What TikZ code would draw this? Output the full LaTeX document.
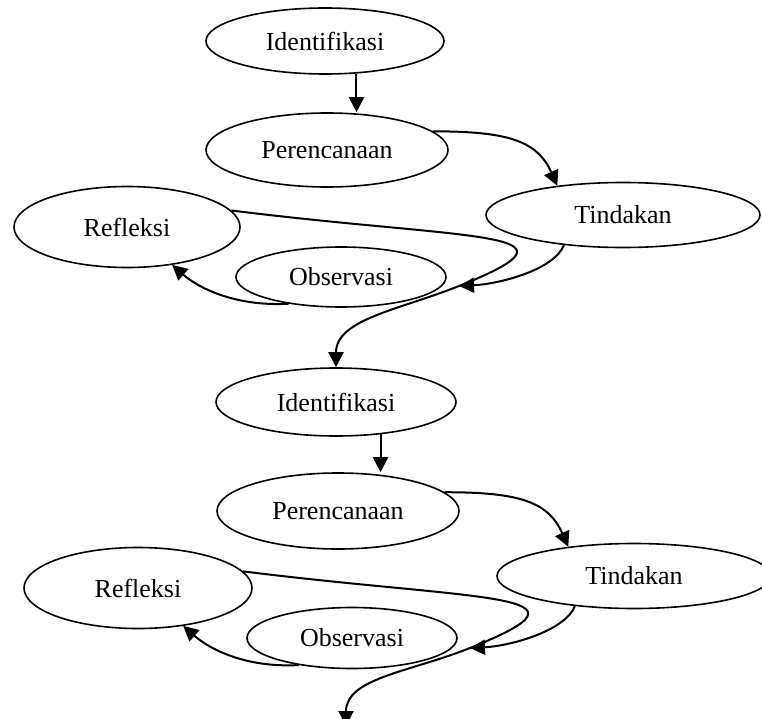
\documentclass[tikz,border=0pt]{standalone}
\usepackage{fontspec}
\setmainfont{Liberation Serif}
\usetikzlibrary{shapes.geometric,arrows.meta}

\tikzset{
  stage/.style={ellipse, draw, line width=1.6pt, inner sep=0pt,
    font=\fontsize{26}{30}\selectfont},
  flow/.style={line width=2pt, -{Triangle[length=15pt,width=15pt]}}
}

\begin{document}
\begin{tikzpicture}[x=1pt,y=-1pt]
  \useasboundingbox (0,0) rectangle (762,719);
  \clip (0,0) rectangle (762,719);

  % first cycle
  \node[stage, minimum width=238pt, minimum height=66pt] (id1) at (325,41) {Identifikasi};
  \node[stage, minimum width=242pt, minimum height=74pt] (pr1) at (327,150) {Perencanaan};
  \node[stage, minimum width=274pt, minimum height=65pt] (ti1) at (623,215) {Tindakan};
  \node[stage, minimum width=226pt, minimum height=81pt] (re1) at (127,227) {Refleksi};
  \node[stage, minimum width=210pt, minimum height=60pt] (ob1) at (341,277) {Observasi};
  \coordinate (m1) at (459,286);

  % second cycle
  \node[stage, minimum width=240pt, minimum height=68pt] (id2) at (336,402) {Identifikasi};
  \node[stage, minimum width=242pt, minimum height=76pt] (pr2) at (338,511) {Perencanaan};
  \node[stage, minimum width=274pt, minimum height=65pt] (ti2) at (634,576) {Tindakan};
  \node[stage, minimum width=228pt, minimum height=81pt] (re2) at (138,588) {Refleksi};
  \node[stage, minimum width=210pt, minimum height=61pt] (ob2) at (352,638) {Observasi};
  \coordinate (m2) at (470,648);
  \coordinate (end2) at (346,726);

  % arrows, first cycle
  \draw[flow] (id1.-46) -- (id1.-46 |- pr1.north);
  \draw[flow] (pr1.10) .. controls +(75,0) and +(-20,-45) .. (ti1.156);
  \draw[flow] (ti1.207) .. controls +(-10,25) and +(40,-2) .. (m1);
  \draw[flow] (re1.9) .. controls +(240,30) and +(140,-56) .. (m1)
              .. controls +(-60,24) and +(0,-48) .. (id2.north);
  \draw[flow] (ob1.207) .. controls +(-55,3) and +(25,22) .. (re1.-40);

  % arrows, second cycle
  \draw[flow] (id2.-36) -- (id2.-36 |- pr2.north);
  \draw[flow] (pr2.10) .. controls +(75,0) and +(-20,-45) .. (ti2.156);
  \draw[flow] (ti2.207) .. controls +(-10,25) and +(40,-2) .. (m2);
  \draw[flow] (re2.9) .. controls +(240,30) and +(140,-56) .. (m2)
              .. controls +(-60,24) and +(0,-48) .. (end2);
  \draw[flow] (ob2.207) .. controls +(-55,3) and +(25,22) .. (re2.-40);
\end{tikzpicture}
\end{document}
